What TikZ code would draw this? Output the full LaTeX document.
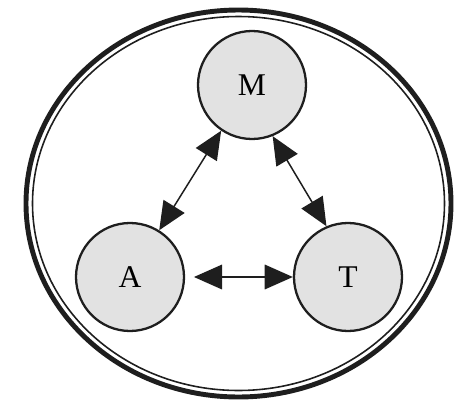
\documentclass[tikz,border=0pt]{standalone}
\usepackage{fontspec}
\setmainfont{Liberation Serif}
\usetikzlibrary{arrows.meta}
\definecolor{nodegray}{HTML}{E2E2E2}
\definecolor{inkblack}{HTML}{1E1E1E}

\begin{document}
\begin{tikzpicture}[x=0.02cm,y=-0.02cm,
    agent/.style={circle,draw=inkblack,line width=1.3pt,fill=nodegray,
                  minimum size=108*0.02cm,inner sep=0pt,
                  font=\fontsize{18}{21}\selectfont},
    link/.style={inkblack,line width=0.85pt,
                 {Triangle[length=16pt,width=14pt]}-{Triangle[length=16pt,width=14pt]}}]

  \useasboundingbox (0,0) rectangle (461,403);

  % ---- enclosing double ring ----
  \draw[inkblack,line width=2.8pt] (238.5,203.5) ellipse [x radius=212.5,y radius=193.5];
  \draw[inkblack,line width=0.9pt] (238.5,203.5) ellipse [x radius=206,y radius=187];

  % ---- the three parties ----
  \node[agent] (M) at (252,85)  {M};
  \node[agent] (A) at (130,277) {A};
  \node[agent] (T) at (348,277) {T};

  % ---- two-way links ----
  \draw[link] (M.236) -- (A.58);
  \draw[link] (M.292) -- (T.113);
  \draw[link,shorten <=5pt] (A.east) -- (T.west);

\end{tikzpicture}
\end{document}
